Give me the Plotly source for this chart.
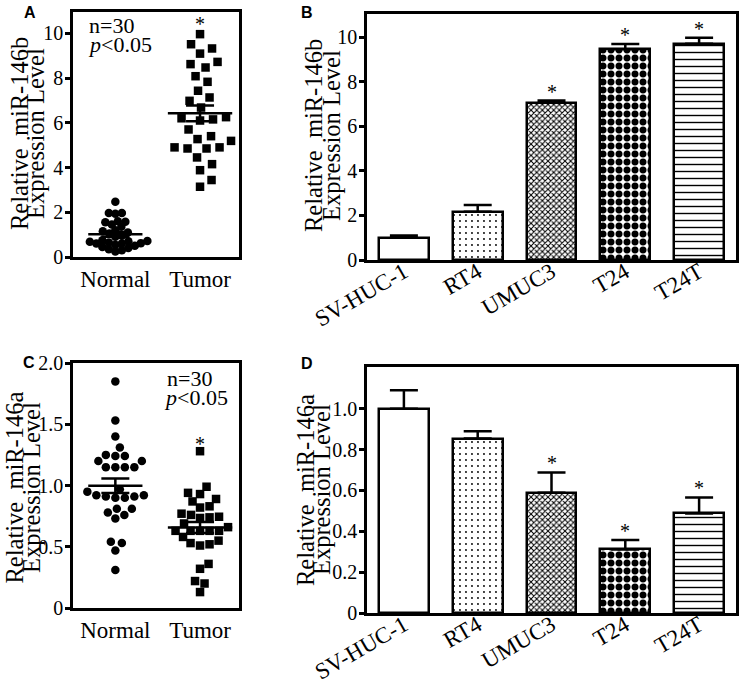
import numpy as np
import plotly.graph_objects as go

# ---------------- data ----------------
groups = ["Normal", "Tumor"]
a_normal = [2.47, 1.97, 1.93, 1.97, 1.6, 1.55, 1.45, 1.58, 1.35, 1.2, 1.1, 1.05, 0.95, 1.15, 0.9,
            0.75, 0.7, 0.65, 0.6, 0.62, 0.68, 0.72, 0.55, 0.5, 0.45, 0.6, 0.35, 0.25, 0.3, 0.4]
a_tumor = [9.96, 9.51, 9.32, 9.09, 8.72, 8.62, 8.47, 8.08, 7.83, 7.43, 7.13, 6.98, 6.68, 6.25, 6.2,
           6.15, 6.1, 5.7, 5.4, 5.27, 5.19, 4.9, 4.85, 4.85, 4.9, 4.45, 4.15, 3.88, 3.44, 3.14]
c_normal = [1.85, 1.53, 1.40, 1.31, 1.25, 1.24, 1.24, 1.20, 1.20, 1.15, 1.15, 1.15, 1.15, 0.92, 0.91,
            0.90, 0.90, 0.91, 0.92, 0.95, 0.97, 0.81, 0.78, 0.73, 0.76, 0.81, 0.53, 0.54, 0.47, 0.31]
c_tumor = [1.28, 0.99, 0.93, 0.94, 0.89, 0.87, 0.83, 0.82, 0.77, 0.76, 0.745, 0.74, 0.735, 0.69, 0.66,
           0.63, 0.63, 0.63, 0.63, 0.63, 0.58, 0.53, 0.51, 0.52, 0.55, 0.36, 0.32, 0.22, 0.20, 0.13]

cell_lines = ["SV-HUC-1", "RT4", "UMUC3", "T24", "T24T"]
b_values = [1.0, 2.17, 7.06, 9.47, 9.71]
b_errors = [0.1, 0.3, 0.1, 0.23, 0.27]
b_signif = [False, False, True, True, True]
d_values = [1.0, 0.854, 0.588, 0.311, 0.4875]
d_errors = [0.09, 0.036, 0.10, 0.046, 0.078]
d_signif = [False, False, True, True, True]

a_ticks = [0, 2, 4, 6, 8, 10]
a_ticktext = ["0", "2", "4", "6", "8", "10"]
c_ticks = [0, 0.5, 1.0, 1.5, 2.0]
c_ticktext = ["0", "0.5", "1.0", "1.5", "2.0"]
d_ticks = [0, 0.2, 0.4, 0.6, 0.8, 1.0]
d_ticktext = ["0", "0.2", "0.4", "0.6", "0.8", "1.0"]

# ---------------- layout geometry ----------------
W, H = 739, 681
FONT = "Liberation Serif"
TICKF = 20
CATF = 23
TITLEF = 24.5
LW = 2.5

def px_x(p):
    return p / W

def px_y(p):
    return 1 - p / H

dom = {
    "A": ([73, 239], [257, 12]),
    "B": ([367, 736], [260, 14]),
    "C": ([73, 239], [608, 363]),
    "D": ([367, 736], [613, 367]),
}

def beeswarm(values, ppu_x, ppu_y, diam):
    vals = np.asarray(values, float)
    order = np.argsort(vals)
    placed = []
    offs = np.zeros(len(vals))
    cands = [0.0]
    for j in range(1, 200):
        cands += [j * 0.5, -j * 0.5]
    for i in order:
        y = vals[i] * ppu_y
        for c in cands:
            if all((c - px) ** 2 + (y - py) ** 2 >= diam ** 2 for px, py in placed):
                break
        placed.append((c, y))
        offs[i] = c / ppu_x
    return offs

fig = go.Figure()

def axis_common():
    return dict(showline=True, linecolor="black", linewidth=LW, mirror=True,
                showgrid=False, zeroline=False, automargin=False,
                tickfont=dict(family=FONT, size=TICKF, color="black"))

def scatter_panel(xa, ya, normal, tumor, ymax, key, diams):
    xr = [-0.5, 1.46]
    (x0, x1), (yb, yt) = dom[key]
    ppu_x = (x1 - x0) / (xr[1] - xr[0])
    ppu_y = (yb - yt) / ymax
    for gi, (vals, sym) in enumerate([(normal, "circle"), (tumor, "square")]):
        offs = beeswarm(vals, ppu_x, ppu_y, diams[gi])
        fig.add_trace(go.Scatter(x=gi + offs, y=vals, mode="markers", xaxis=xa, yaxis=ya,
                                 marker=dict(symbol=sym, size=8.5, color="black",
                                             line=dict(width=0)),
                                 showlegend=False, hoverinfo="skip"))
        m = float(np.mean(vals))
        sem = float(np.std(vals, ddof=1) / np.sqrt(len(vals)))
        hw = 0.32 if gi == 0 else 0.38
        fig.add_trace(go.Scatter(x=[gi - hw, gi + hw], y=[m, m], mode="lines", xaxis=xa, yaxis=ya,
                                 line=dict(color="black", width=LW), showlegend=False,
                                 hoverinfo="skip"))
        fig.add_trace(go.Scatter(x=[gi], y=[m], mode="markers", xaxis=xa, yaxis=ya,
                                 marker=dict(size=1, color="rgba(0,0,0,0)"),
                                 error_y=dict(type="data", array=[sem], color="black",
                                              thickness=LW, width=14),
                                 showlegend=False, hoverinfo="skip"))

def bar_panel(xa, ya, values, errors):
    patterns = [dict(shape=""),
                dict(shape=".", size=6, solidity=0.08, fgcolor="black", bgcolor="white"),
                dict(shape="x", size=4, solidity=0.45, fgcolor="black", bgcolor="white"),
                dict(shape=".", size=8, solidity=0.6, fgcolor="black", bgcolor="white"),
                dict(shape="-", size=7, solidity=0.2, fgcolor="black", bgcolor="white")]
    for i, (v, e) in enumerate(zip(values, errors)):
        fig.add_trace(go.Bar(x=[i], y=[v], width=0.676, xaxis=xa, yaxis=ya,
                             marker=dict(color="white", line=dict(color="black", width=LW),
                                         pattern=patterns[i]),
                             error_y=dict(type="data", array=[e], arrayminus=[0], symmetric=False,
                                          color="black", thickness=LW, width=14),
                             showlegend=False, hoverinfo="skip"))

scatter_panel("x", "y", a_normal, a_tumor, 10.95, "A", (6.5, 13.0))
bar_panel("x2", "y2", b_values, b_errors)
scatter_panel("x3", "y3", c_normal, c_tumor, 2.0, "C", (9.5, 9.5))
bar_panel("x4", "y4", d_values, d_errors)

def xdom(k):
    return [px_x(dom[k][0][0]), px_x(dom[k][0][1])]

def ydom(k):
    return [px_y(dom[k][1][0]), px_y(dom[k][1][1])]

layout = dict(width=W, height=H, margin=dict(l=0, r=0, t=0, b=0, autoexpand=False),
              template="none",
              plot_bgcolor="white", paper_bgcolor="white", bargap=0, showlegend=False)

for k, xa, ya, yr, tv, tt, cats, rot in [
    ("A", "xaxis", "yaxis", [0, 10.95], a_ticks, a_ticktext, groups, 0),
    ("B", "xaxis2", "yaxis2", [0, 11.05], a_ticks, a_ticktext, cell_lines, -30),
    ("C", "xaxis3", "yaxis3", [0, 2.0], c_ticks, c_ticktext, groups, 0),
    ("D", "xaxis4", "yaxis4", [0, 1.204], d_ticks, d_ticktext, cell_lines, -30),
]:
    n = len(cats)
    xr = [-0.5, 1.46] if n == 2 else [-0.5, 4.5]
    anchor_y = ya.replace("yaxis", "y")
    anchor_x = xa.replace("xaxis", "x")
    xd = axis_common()
    xd.update(domain=xdom(k), range=xr, anchor=anchor_y, tickmode="array",
              tickvals=list(range(n)), ticktext=cats, ticks="", tickangle=rot,
              ticklabelstandoff=(-13 if rot else 0),
              tickfont=dict(family=FONT, size=CATF, color="black"))
    yd = axis_common()
    yd.update(domain=ydom(k), range=yr, anchor=anchor_x, tickmode="array",
              tickvals=tv, ticktext=tt, ticks="outside", ticklen=5, tickwidth=LW,
              tickcolor="black", ticklabelstandoff=-2)
    layout[xa] = xd
    layout[ya] = yd

fig.update_layout(**layout)

ann = []
for letter, (x, y) in {"A": (29.5, 12), "B": (307, 12), "C": (29, 362), "D": (307, 363)}.items():
    ann.append(dict(text="<b>" + letter + "</b>", x=px_x(x), y=px_y(y), xref="paper", yref="paper",
                    showarrow=False, xanchor="center", yanchor="middle",
                    font=dict(family="Liberation Sans", size=16, color="black")))
for (l1, l2, x1, x2, yc) in [
    ("Relative&nbsp;&nbsp;miR-146b", "Expression Level", 20, 36, 134),
    ("Relative&nbsp;&nbsp;miR-146b", "Expression Level", 313, 331, 136),
    ("Relative&nbsp;&nbsp;miR-146a", "Expression Level", 13.5, 31, 488),
    ("Relative&nbsp;&nbsp;miR-146a", "Expression Level", 305, 321, 490),
]:
    for t, xx in [(l1, x1), (l2, x2)]:
        ann.append(dict(text=t, x=px_x(xx), y=px_y(yc), xref="paper", yref="paper",
                        showarrow=False, textangle=-90, xanchor="center", yanchor="middle",
                        font=dict(family=FONT, size=TITLEF, color="black")))
for (xn, xp, y1, y2) in [(87, 86, 26, 44), (165, 162, 378, 397)]:
    ann.append(dict(text="n=30", x=px_x(xn), y=px_y(y1), xref="paper", yref="paper",
                    showarrow=False, xanchor="left", yanchor="middle",
                    font=dict(family=FONT, size=22, color="black")))
    ann.append(dict(text="<i>p</i>&lt;0.05", x=px_x(xp), y=px_y(y2), xref="paper", yref="paper",
                    showarrow=False, xanchor="left", yanchor="middle",
                    font=dict(family=FONT, size=22, color="black")))
for xr_, yr_, vals, ys in [("x", "y", a_tumor, -3), ("x3", "y3", c_tumor, -6)]:
    ann.append(dict(text="*", x=1, y=max(vals), xref=xr_, yref=yr_, showarrow=False,
                    xanchor="center", yanchor="bottom", yshift=ys,
                    font=dict(family=FONT, size=20, color="black")))
for xr_, yr_, vals, errs, sig in [("x2", "y2", b_values, b_errors, b_signif),
                                  ("x4", "y4", d_values, d_errors, d_signif)]:
    for i, (v, e, s) in enumerate(zip(vals, errs, sig)):
        if s:
            ann.append(dict(text="*", x=i, y=v + e, xref=xr_, yref=yr_, showarrow=False,
                            xanchor="center", yanchor="bottom", yshift=-4,
                            font=dict(family=FONT, size=20, color="black")))
fig.update_layout(annotations=ann)

fig.write_html("out.html", config={"displayModeBar": False},
               post_script="document.body.style.margin='0';document.body.style.padding='0';")
